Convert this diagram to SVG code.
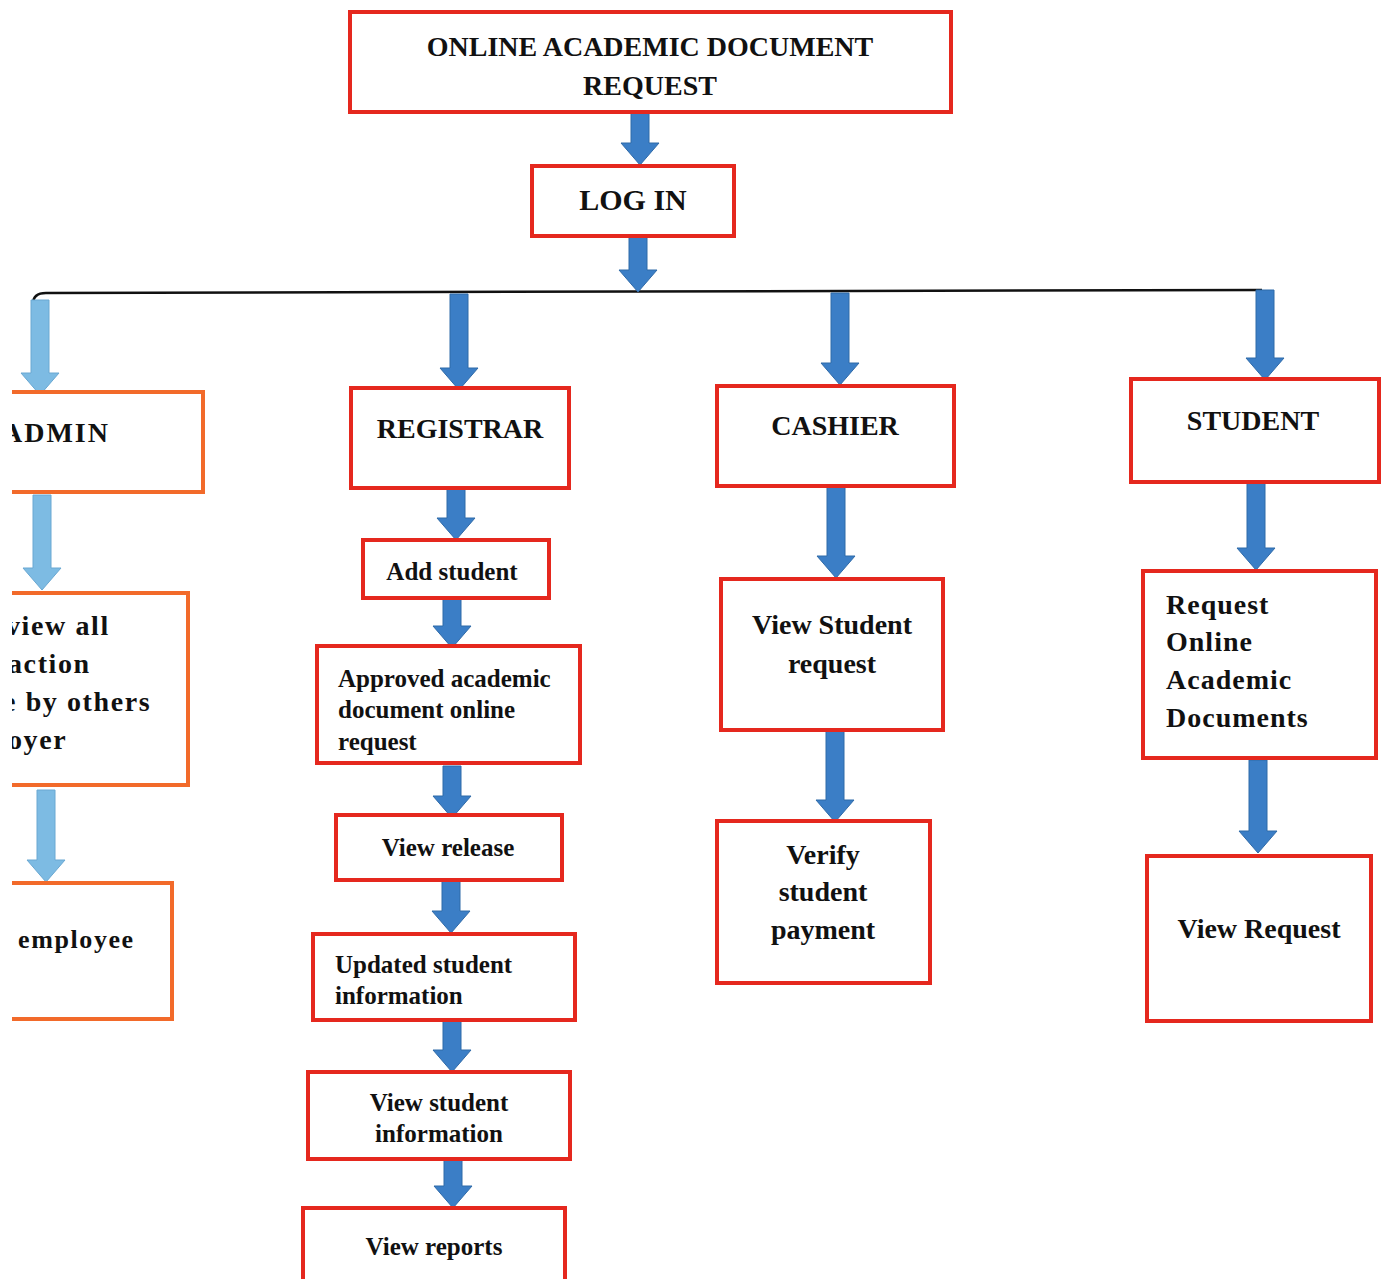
<svg xmlns="http://www.w3.org/2000/svg" width="1381" height="1279" viewBox="0 0 1381 1279">
<style>
.box{fill:#fff;stroke:#e5281e;stroke-width:4}
.abox{fill:#fff;stroke:#f26a2a;stroke-width:4}
.t{font-family:"Liberation Serif","Times New Roman",serif;font-weight:bold;fill:#111}
.c{text-anchor:middle}
.sp{letter-spacing:1.6px}
.arr{fill:#3b7ec6;stroke:#2f6aa8;stroke-width:1}
.larr{fill:#7dbbe3;stroke:#6aa8d2;stroke-width:1}
</style>
<defs>
<clipPath id="leftclip"><rect x="12" y="0" width="400" height="1279"/></clipPath>
</defs>
<rect width="1381" height="1279" fill="#fff"/>
<g id="connectors">
<path d="M33,304 Q33,293 46,293 L1262,290" fill="none" stroke="#111" stroke-width="2.5"/>
<polygon class="arr" points="631,113 649,113 649,143 659,143 640,165 621,143 631,143"/>
<polygon class="arr" points="629,237 647,237 647,270 657,270 638,292 619,270 629,270"/>
<polygon class="larr" points="31,300 49,300 49,373 59,373 40,395 21,373 31,373"/>
<polygon class="arr" points="450,294 468,294 468,368 478,368 459,390 440,368 450,368"/>
<polygon class="arr" points="831,293 849,293 849,363 859,363 840,385 821,363 831,363"/>
<polygon class="arr" points="1256,290 1274,290 1274,358 1284,358 1265,380 1246,358 1256,358"/>
<polygon class="larr" points="33,495 51,495 51,568 61,568 42,590 23,568 33,568"/>
<polygon class="larr" points="37,790 55,790 55,860 65,860 46,882 27,860 37,860"/>
<polygon class="arr" points="447,489 465,489 465,518 475,518 456,540 437,518 447,518"/>
<polygon class="arr" points="443,599 461,599 461,626 471,626 452,648 433,626 443,626"/>
<polygon class="arr" points="443,766 461,766 461,796 471,796 452,818 433,796 443,796"/>
<polygon class="arr" points="442,881 460,881 460,911 470,911 451,933 432,911 442,911"/>
<polygon class="arr" points="443,1021 461,1021 461,1050 471,1050 452,1072 433,1050 443,1050"/>
<polygon class="arr" points="444,1160 462,1160 462,1186 472,1186 453,1208 434,1186 444,1186"/>
<polygon class="arr" points="827,487 845,487 845,556 855,556 836,578 817,556 827,556"/>
<polygon class="arr" points="826,731 844,731 844,800 854,800 835,822 816,800 826,800"/>
<polygon class="arr" points="1247,483 1265,483 1265,548 1275,548 1256,570 1237,548 1247,548"/>
<polygon class="arr" points="1249,760 1267,760 1267,831 1277,831 1258,853 1239,831 1249,831"/>
</g>
<g id="title"><rect class="box" x="350" y="12" width="601" height="100"/>
<text class="t c" x="650" y="56" font-size="28">ONLINE ACADEMIC DOCUMENT</text>
<text class="t c" x="650" y="95" font-size="28">REQUEST</text></g>
<g id="login"><rect class="box" x="532" y="166" width="202" height="70"/>
<text class="t c" x="633" y="210" font-size="30">LOG IN</text></g>
<g id="admin" clip-path="url(#leftclip)"><rect class="abox" x="-10" y="392" width="213" height="100"/>
<text class="t" x="2" y="442" font-size="28" letter-spacing="2">ADMIN</text></g>
<g id="admin-view" clip-path="url(#leftclip)"><rect class="abox" x="-10" y="593" width="198" height="192"/>
<text class="t sp" x="6" y="635" font-size="28">view all</text>
<text class="t sp" x="8" y="673" font-size="28">action</text>
<text class="t sp" x="3" y="711" font-size="28">e by others</text>
<text class="t sp" x="8" y="749" font-size="28">oyer</text></g>
<g id="admin-employee" clip-path="url(#leftclip)"><rect class="abox" x="-10" y="883" width="182" height="136"/>
<text class="t sp" x="18" y="948" font-size="26">employee</text></g>
<g id="registrar"><rect class="box" x="351" y="388" width="218" height="100"/>
<text class="t c" x="460" y="438" font-size="28">REGISTRAR</text></g>
<g id="add-student"><rect class="box" x="363" y="540" width="186" height="58"/>
<text class="t c" x="452" y="580" font-size="25">Add student</text></g>
<g id="approved"><rect class="box" x="317" y="646" width="263" height="117"/>
<text class="t" x="338" y="687" font-size="25">Approved academic</text>
<text class="t" x="338" y="718" font-size="25">document online</text>
<text class="t" x="338" y="750" font-size="25">request</text></g>
<g id="view-release"><rect class="box" x="336" y="815" width="226" height="65"/>
<text class="t c" x="448" y="856" font-size="25">View release</text></g>
<g id="updated"><rect class="box" x="313" y="934" width="262" height="86"/>
<text class="t" x="335" y="973" font-size="25">Updated student</text>
<text class="t" x="335" y="1004" font-size="25">information</text></g>
<g id="view-student-info"><rect class="box" x="308" y="1072" width="262" height="87"/>
<text class="t c" x="439" y="1111" font-size="25">View student</text>
<text class="t c" x="439" y="1142" font-size="25">information</text></g>
<g id="view-reports"><rect class="box" x="303" y="1208" width="262" height="80"/>
<text class="t c" x="434" y="1255" font-size="25">View reports</text></g>
<g id="cashier"><rect class="box" x="717" y="386" width="237" height="100"/>
<text class="t c" x="835" y="435" font-size="28">CASHIER</text></g>
<g id="view-student-request"><rect class="box" x="721" y="579" width="222" height="151"/>
<text class="t c" x="832" y="634" font-size="28">View Student</text>
<text class="t c" x="832" y="673" font-size="28">request</text></g>
<g id="verify"><rect class="box" x="717" y="821" width="213" height="162"/>
<text class="t c" x="823" y="864" font-size="28">Verify</text>
<text class="t c" x="823" y="901" font-size="28">student</text>
<text class="t c" x="823" y="939" font-size="28">payment</text></g>
<g id="student"><rect class="box" x="1131" y="379" width="248" height="103"/>
<text class="t c" x="1253" y="430" font-size="28">STUDENT</text></g>
<g id="request-docs"><rect class="box" x="1143" y="571" width="233" height="187"/>
<text class="t" x="1166" y="614" font-size="28" letter-spacing="1">Request</text>
<text class="t" x="1166" y="651" font-size="28" letter-spacing="1">Online</text>
<text class="t" x="1166" y="689" font-size="28" letter-spacing="1">Academic</text>
<text class="t" x="1166" y="727" font-size="28" letter-spacing="1">Documents</text></g>
<g id="view-request"><rect class="box" x="1147" y="856" width="224" height="165"/>
<text class="t c" x="1259" y="938" font-size="28">View Request</text></g>
</svg>
